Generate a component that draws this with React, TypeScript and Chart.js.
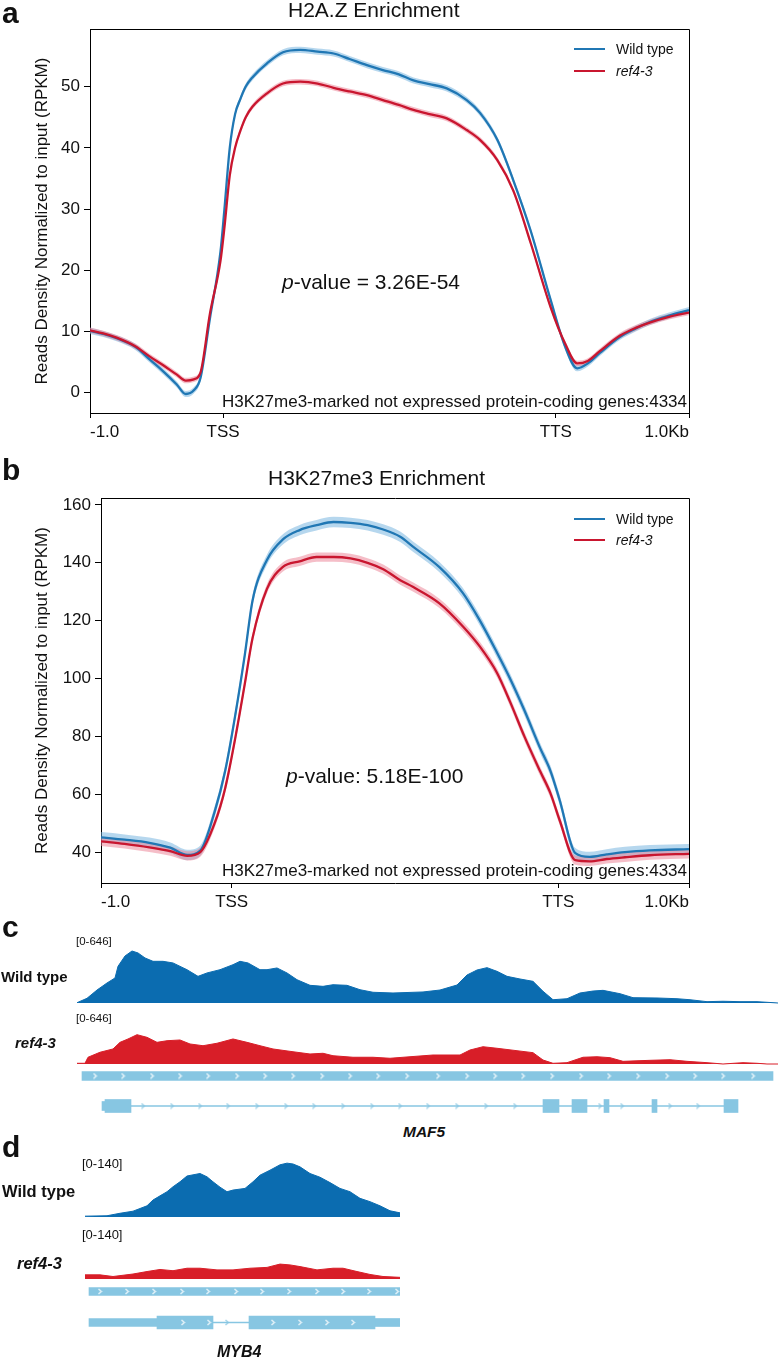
import React, { useEffect, useRef } from "react";
import { Chart, registerables } from "chart.js";
Chart.register(...registerables);

const FONT = "'Liberation Sans', Arial, Helvetica, sans-serif";
const TXT = "#111";
const BLUE = "#2077b4";
const RED = "#c9162f";
const BLUE_BAND = "rgba(110,175,222,0.5)";
const RED_BAND = "rgba(235,125,145,0.5)";
const TRACK_BLUE = "#0b6cb0";
const TRACK_RED = "#d81e28";
const GENE = "#87c6e2";

// ---------- profile x axis (bins: 100 upstream, 250 body, 100 downstream) ----------
const X_MIN = 0;
const X_MAX = 450;
const X_TICKS = [0, 100, 350, 450];
const X_TICK_LABELS = ["-1.0", "TSS", "TTS", "1.0Kb"];
const Y_TITLE = "Reads Density Normalized to input (RPKM)";

// ---------- panel a : H2A.Z ----------
const A_X = [0, 10, 20, 34, 45, 55, 65, 72, 78, 83, 90, 98, 101, 105, 109, 113, 117, 122, 133, 145, 158, 171, 183, 195, 208, 220, 232, 243, 255, 268, 283, 293, 306, 318, 331, 346, 357, 366, 374, 383, 398, 410, 421, 435, 450];
const A_WT = [10.1, 9.6, 8.9, 7.5, 5.4, 3.5, 1.4, -0.2, 0.4, 2.4, 12, 23, 30, 40, 45.5, 48, 50, 51.5, 53.8, 55.6, 56, 55.7, 55.4, 54.5, 53.5, 52.7, 52, 51, 50.4, 49.7, 47.8, 45.7, 41.3, 34.7, 26.5, 15.2, 7.5, 4.0, 4.8, 6.5, 9.1, 10.5, 11.6, 12.6, 13.5];
const A_MUT = [10.2, 9.7, 9.0, 7.6, 5.9, 4.5, 3.0, 2.0, 2.2, 3.3, 12.8, 21.5, 27, 35.5, 40, 42.8, 45, 46.7, 48.9, 50.5, 50.8, 50.5, 49.8, 49.2, 48.6, 47.8, 47, 46.2, 45.5, 44.8, 42.9, 41.3, 38, 33, 24.5, 14, 8, 4.8, 5.2, 6.8, 9.3, 10.6, 11.5, 12.4, 13.1];
const A_WT_BAND = 0.5;
const A_MUT_BAND = 0.45;
const A_Y_MIN = -3.3;
const A_Y_MAX = 59.4;
const A_Y_TICKS = [0, 10, 20, 30, 40, 50];

// ---------- panel b : H3K27me3 ----------
const B_X = [0, 18, 37, 53, 66, 76, 87, 95, 103, 110, 116, 127, 139, 152, 165, 178, 191, 204, 216, 229, 239, 259, 277, 290, 303, 313, 324, 336, 344, 351, 363, 374, 387, 401, 420, 450];
const B_WT = [45.1, 44.3, 43.2, 41.5, 39.0, 40.5, 54, 68, 88, 108, 127, 141, 148, 151.3, 153, 154.1, 153.8, 153, 151.5, 149, 145.5, 138.5, 129.5, 120, 109, 100, 89, 76, 68, 58, 39.6, 38.3, 39.2, 40, 40.6, 41];
const B_MUT = [43.7, 42.8, 41.6, 40.3, 38.7, 40, 50, 62, 80, 98, 114, 131, 138.5, 140.5, 142, 142, 141.5, 140, 137.8, 134, 131.6, 126, 118, 111, 102, 92, 80, 68, 60.3, 51, 37.2, 36.8, 37.6, 38.2, 38.9, 39.4];
const B_WT_BAND = 1.8;
const B_MUT_BAND = 1.6;
const B_Y_MIN = 29.3;
const B_Y_MAX = 162.4;
const B_Y_TICKS = [40, 60, 80, 100, 120, 140, 160];

// ---------- panel c : MAF5 browser tracks (range 0-646) ----------
const C_RANGE = 646;
const C_SPAN = 702;
const C_WT_POS = [0, 10, 20, 30, 38, 41, 48, 55, 61, 68, 76, 86, 96, 110, 121, 130, 143, 156, 163, 171, 183, 190, 200, 210, 220, 233, 246, 256, 270, 283, 296, 316, 346, 363, 380, 390, 400, 410, 420, 430, 443, 456, 466, 476, 490, 503, 516, 526, 543, 556, 580, 600, 613, 630, 646, 663, 680, 690, 701];
const C_WT = [3, 46, 127, 196, 245, 359, 460, 509, 490, 441, 408, 408, 392, 326, 261, 294, 326, 375, 408, 392, 326, 326, 343, 294, 228, 173, 163, 179, 173, 130, 105, 98, 108, 127, 176, 274, 323, 346, 310, 261, 235, 212, 115, 32, 42, 98, 117, 124, 91, 52, 49, 42, 32, 13, 17, 13, 13, 7, 0];
const C_MUT_POS = [0, 8, 11, 23, 36, 43, 51, 60, 70, 80, 90, 103, 113, 126, 140, 156, 170, 183, 196, 216, 233, 246, 256, 276, 296, 313, 333, 356, 383, 393, 406, 420, 440, 456, 466, 476, 490, 506, 520, 533, 546, 573, 593, 610, 630, 646, 666, 680, 690, 701];
const C_MUT = [7, 7, 66, 115, 147, 212, 245, 287, 261, 212, 228, 235, 196, 179, 203, 245, 212, 179, 147, 120, 98, 105, 81, 66, 66, 56, 71, 88, 88, 137, 169, 154, 130, 111, 39, 7, 13, 66, 71, 62, 26, 36, 42, 26, 13, 0, 13, 7, 0, 0];
const C_FEATURE = [[5, 696]];
const C_EXONS = [[28, 54], [466, 482], [495, 510], [527, 532], [575, 580], [647, 661]];
const C_UTRS = [[25, 28]];
const C_INTRONS = [[54, 647]];
const C_FEATURE_CHEV = [18, 46, 75, 103, 131, 160, 188, 216, 245, 273, 301, 330, 361, 390, 418, 446, 475, 504, 532, 561, 590, 618, 646, 676];
const C_MODEL_CHEV_WHITE: number[] = [];
const C_MODEL_CHEV_BLUE = [66, 95, 123, 151, 180, 209, 237, 266, 295, 323, 351, 380, 409, 438, 523, 545, 593, 621];

// ---------- panel d : MYB4 browser tracks (range 0-140) ----------
const D_RANGE = 140;
const D_SPAN = 315;
const D_WT_POS = [0, 22, 35, 48, 62, 68, 75, 82, 88, 95, 102, 115, 122, 128, 135, 142, 148, 160, 168, 175, 185, 195, 202, 208, 215, 225, 235, 245, 255, 265, 275, 285, 295, 305, 315];
const D_WT = [2, 3, 9, 14, 27, 41, 51, 61, 73, 85, 99, 105, 97, 85, 72, 61, 65, 69, 85, 101, 113, 126, 130, 128, 121, 105, 96, 83, 69, 61, 45, 37, 27, 15, 10];
const D_MUT_POS = [0, 15, 28, 48, 62, 75, 88, 102, 115, 132, 148, 165, 182, 195, 205, 215, 232, 248, 258, 272, 285, 298, 315];
const D_MUT = [10, 10, 6, 12, 18, 23, 20, 26, 26, 22, 22, 26, 28, 36, 34, 30, 22, 26, 26, 18, 11, 6, 4];
const D_FEATURE = [[4, 315]];
const D_EXONS = [[72, 128], [164, 290]];
const D_UTRS = [[4, 72], [290, 315]];
const D_INTRONS = [[128, 164]];
const D_FEATURE_CHEV = [15, 42, 69, 97, 123, 151, 177, 204, 232, 258, 284, 312];
const D_MODEL_CHEV_WHITE = [98, 124, 188, 215, 242, 268];
const D_MODEL_CHEV_BLUE = [142];

// ---------- helpers ----------
const framePlugin = {
  id: "frame",
  afterDatasetsDraw(chart: any) {
    const { ctx, chartArea: a } = chart;
    const al = (v: number) => Math.round(v - 0.5) + 0.5;
    ctx.save();
    ctx.strokeStyle = "#000";
    ctx.lineWidth = 1;
    ctx.beginPath();
    ctx.moveTo(al(a.left), al(a.top));
    ctx.lineTo(al(a.right), al(a.top));
    ctx.lineTo(al(a.right), al(a.bottom));
    ctx.stroke();
    ctx.restore();
  },
};

function profileConfig(o: any): any {
  const pts = (ys: number[], d: number) => o.xs.map((x: number, i: number) => ({ x, y: ys[i] + d }));
  const line = (ys: number[], color: string, order: number) => ({
    data: pts(ys, 0), borderColor: color, borderWidth: 2.3, pointRadius: 0, fill: false,
    cubicInterpolationMode: "monotone", order,
  });
  const band = (ys: number[], d: number, color: string, fill: any, order: number) => ({
    data: pts(ys, d), borderColor: "rgba(0,0,0,0)", borderWidth: 0, pointRadius: 0,
    backgroundColor: color, fill, cubicInterpolationMode: "monotone", order,
  });
  return {
    type: "line",
    data: {
      datasets: [
        line(o.mut, RED, 0),
        line(o.wt, BLUE, 1),
        band(o.mut, o.mutBand, RED_BAND, "+1", 2),
        band(o.mut, -o.mutBand, RED_BAND, false, 2),
        band(o.wt, o.wtBand, BLUE_BAND, "+1", 3),
        band(o.wt, -o.wtBand, BLUE_BAND, false, 3),
      ],
    },
    options: {
      responsive: false,
      animation: false,
      events: [],
      layout: { autoPadding: false, padding: { top: 20, right: 91, left: 0, bottom: 0 } },
      plugins: { legend: { display: false }, tooltip: { enabled: false } },
      scales: {
        x: {
          type: "linear", min: X_MIN, max: X_MAX,
          afterBuildTicks: (s: any) => { s.ticks = X_TICKS.map((v) => ({ value: v })); },
          afterFit: (s: any) => { s.height = 30; },
          ticks: {
            autoSkip: false, maxRotation: 0, minRotation: 0, align: "inner", padding: 4,
            color: TXT, font: { size: 17, family: FONT },
            callback: (v: any) => X_TICK_LABELS[X_TICKS.indexOf(Number(v))] ?? "",
          },
          grid: { drawOnChartArea: false, drawTicks: true, tickLength: 5, color: "#000", lineWidth: 1 },
          border: { display: true, color: "#000", width: 1 },
        },
        y: {
          type: "linear", min: o.yMin, max: o.yMax,
          afterBuildTicks: (s: any) => { s.ticks = o.yTicks.map((v: number) => ({ value: v })); },
          afterFit: (s: any) => { s.width = o.yAxisWidth; },
          ticks: { padding: 4, color: TXT, font: { size: 17, family: FONT } },
          grid: { drawOnChartArea: false, drawTicks: true, tickLength: 6, color: "#000", lineWidth: 1 },
          border: { display: true, color: "#000", width: 1 },
          title: {
            display: true, text: Y_TITLE, color: TXT, font: { size: 17, family: FONT },
            padding: { top: 32, bottom: 0 },
          },
        },
      },
    },
    plugins: [framePlugin],
  };
}

function trackConfig(xs: number[], ys: number[], color: string, span: number, range: number): any {
  return {
    type: "line",
    data: {
      datasets: [{
        data: xs.map((x, i) => ({ x, y: ys[i] })),
        fill: "origin", backgroundColor: color, borderColor: color, borderWidth: 1,
        pointRadius: 0, tension: 0, clip: false,
      }],
    },
    options: {
      responsive: false, animation: false, events: [],
      layout: { autoPadding: false, padding: { bottom: 2 } },
      plugins: { legend: { display: false }, tooltip: { enabled: false } },
      scales: {
        x: { type: "linear", min: 0, max: span, display: false, offset: false },
        y: { type: "linear", min: 0, max: range, display: false },
      },
    },
  };
}

function makeChevron(color: string) {
  const c = document.createElement("canvas");
  c.width = 5;
  c.height = 7;
  const ctx = c.getContext("2d")!;
  ctx.strokeStyle = color;
  ctx.lineWidth = 1.1;
  ctx.beginPath();
  ctx.moveTo(1, 0.8);
  ctx.lineTo(3.8, 3.5);
  ctx.lineTo(1, 6.2);
  ctx.stroke();
  return c;
}

function geneConfig(g: any, span: number): any {
  const white = makeChevron("#ffffff");
  const blue = makeChevron(GENE);
  const bars = (ranges: number[][], row: string, thick: number, order: number) => ({
    type: "bar", indexAxis: "y", grouped: false,
    data: ranges.map(([s, e]) => ({ x: [s, e], y: row })),
    backgroundColor: GENE, borderWidth: 0, borderSkipped: false, barThickness: thick, order,
  });
  const chev = (xs: number[], row: string, img: any) => ({
    type: "scatter", data: xs.map((x) => ({ x, y: row })), pointStyle: img, pointRadius: 3, order: 0,
  });
  return {
    type: "bar",
    data: {
      labels: ["feature", "model"],
      datasets: [
        chev(g.featureChev, "feature", white),
        chev(g.modelChevWhite, "model", white),
        chev(g.modelChevBlue, "model", blue),
        bars(g.feature, "feature", g.featureThick, 1),
        bars(g.exons, "model", 13, 1),
        bars(g.utrs, "model", g.utrThick, 1),
        bars(g.introns, "model", 1, 2),
      ],
    },
    options: {
      responsive: false, animation: false, events: [],
      layout: { autoPadding: false, padding: 0 },
      plugins: { legend: { display: false }, tooltip: { enabled: false } },
      scales: {
        x: { type: "linear", min: 0, max: span, display: false, offset: false, grid: { offset: false } },
        y: { type: "category", offset: true, display: false },
      },
    },
  };
}

function ChartBox({ left, top, width, height, make }: any) {
  const ref = useRef<HTMLCanvasElement | null>(null);
  useEffect(() => {
    if (!ref.current) return;
    const chart = new Chart(ref.current, make());
    return () => chart.destroy();
  }, []);
  return (
    <canvas
      ref={ref}
      width={width}
      height={height}
      style={{ position: "absolute", left, top, width, height }}
    />
  );
}

function T({ x, right, b, size, bold, italic, children }: any) {
  const style: any = {
    position: "absolute",
    top: b - 0.8465 * size,
    fontSize: size,
    lineHeight: size + "px",
    fontWeight: bold ? 700 : 400,
    fontStyle: italic ? "italic" : "normal",
    fontFamily: FONT,
    color: TXT,
    whiteSpace: "nowrap",
  };
  if (right !== undefined) style.right = 780 - right;
  else style.left = x;
  return <div style={style}>{children}</div>;
}

function LegendLine({ x, y, color }: any) {
  return (
    <div style={{ position: "absolute", left: x, top: y - 1.25, width: 31, height: 2.5, background: color }} />
  );
}

export default function App() {
  return (
    <div
      style={{
        position: "absolute", left: 0, top: 0, width: 780, height: 1359,
        background: "#fff", overflow: "hidden", fontFamily: FONT,
      }}
    >
      {/* panel a */}
      <ChartBox left={0} top={9} width={780} height={434}
        make={() => profileConfig({ xs: A_X, wt: A_WT, mut: A_MUT, wtBand: A_WT_BAND, mutBand: A_MUT_BAND,
          yMin: A_Y_MIN, yMax: A_Y_MAX, yTicks: A_Y_TICKS, yAxisWidth: 90 })} />
      {/* panel b */}
      <ChartBox left={0} top={478} width={780} height={435}
        make={() => profileConfig({ xs: B_X, wt: B_WT, mut: B_MUT, wtBand: B_WT_BAND, mutBand: B_MUT_BAND,
          yMin: B_Y_MIN, yMax: B_Y_MAX, yTicks: B_Y_TICKS, yAxisWidth: 101 })} />
      {/* panel c */}
      <ChartBox left={77} top={937} width={C_SPAN} height={68}
        make={() => trackConfig(C_WT_POS, C_WT, TRACK_BLUE, C_SPAN, C_RANGE)} />
      <ChartBox left={77} top={998} width={C_SPAN} height={68}
        make={() => trackConfig(C_MUT_POS, C_MUT, TRACK_RED, C_SPAN, C_RANGE)} />
      <ChartBox left={77} top={1061} width={C_SPAN} height={60}
        make={() => geneConfig({ feature: C_FEATURE, exons: C_EXONS, utrs: C_UTRS, introns: C_INTRONS,
          featureChev: C_FEATURE_CHEV, modelChevWhite: C_MODEL_CHEV_WHITE, modelChevBlue: C_MODEL_CHEV_BLUE,
          featureThick: 9, utrThick: 9 }, C_SPAN)} />
      {/* panel d */}
      <ChartBox left={85} top={1159} width={D_SPAN} height={60}
        make={() => trackConfig(D_WT_POS, D_WT, TRACK_BLUE, D_SPAN, D_RANGE)} />
      <ChartBox left={85} top={1221} width={D_SPAN} height={60}
        make={() => trackConfig(D_MUT_POS, D_MUT, TRACK_RED, D_SPAN, D_RANGE)} />
      <ChartBox left={85} top={1276} width={D_SPAN} height={62}
        make={() => geneConfig({ feature: D_FEATURE, exons: D_EXONS, utrs: D_UTRS, introns: D_INTRONS,
          featureChev: D_FEATURE_CHEV, modelChevWhite: D_MODEL_CHEV_WHITE, modelChevBlue: D_MODEL_CHEV_BLUE,
          featureThick: 8, utrThick: 8 }, D_SPAN)} />

      {/* texts panel a */}
      <T x={2} b={23} size={30} bold>a</T>
      <T x={288} b={17} size={21}>H2A.Z Enrichment</T>
      <LegendLine x={574} y={49} color={BLUE} />
      <LegendLine x={574} y={71} color={RED} />
      <T x={616} b={54} size={14}>Wild type</T>
      <T x={616} b={76} size={14} italic>ref4-3</T>
      <T x={282} b={289} size={21}><i>p</i>-value = 3.26E-54</T>
      <T right={687} b={407} size={17}>H3K27me3-marked not expressed protein-coding genes:4334</T>

      {/* texts panel b */}
      <T x={2} b={480} size={30} bold>b</T>
      <T x={268} b={485} size={21}>H3K27me3 Enrichment</T>
      <LegendLine x={574} y={519} color={BLUE} />
      <LegendLine x={574} y={540} color={RED} />
      <T x={616} b={524} size={14}>Wild type</T>
      <T x={616} b={545} size={14} italic>ref4-3</T>
      <T x={286} b={783} size={21}><i>p</i>-value: 5.18E-100</T>
      <T right={687} b={876} size={17}>H3K27me3-marked not expressed protein-coding genes:4334</T>

      {/* texts panel c */}
      <T x={2} b={937} size={30} bold>c</T>
      <T x={76} b={945.5} size={11.5}>[0-646]</T>
      <T x={1} b={982} size={15} bold>Wild type</T>
      <T x={76} b={1022.5} size={11.5}>[0-646]</T>
      <T x={15} b={1048} size={15} bold italic>ref4-3</T>
      <T x={403} b={1137} size={15.5} bold italic>MAF5</T>

      {/* texts panel d */}
      <T x={2} b={1157} size={30} bold>d</T>
      <T x={82} b={1168} size={13}>[0-140]</T>
      <T x={2} b={1197} size={16.5} bold>Wild type</T>
      <T x={82} b={1239} size={13}>[0-140]</T>
      <T x={17} b={1269} size={16.5} bold italic>ref4-3</T>
      <T x={217} b={1358} size={16} bold italic>MYB4</T>
    </div>
  );
}
